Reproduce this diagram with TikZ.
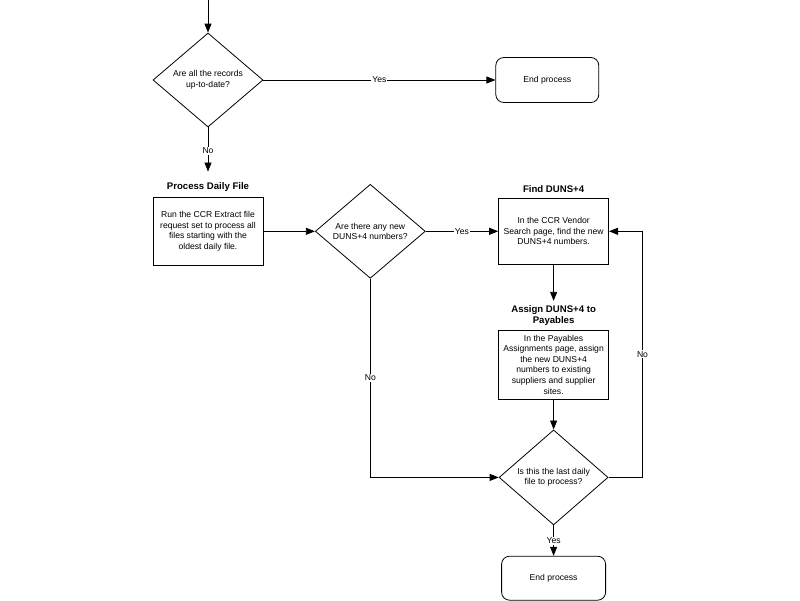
\documentclass[tikz,border=0pt]{standalone}
\usepackage{fontspec}
\setmainfont{Liberation Sans}
\usepackage{tikz}
\usetikzlibrary{shapes.geometric, arrows.meta, positioning}
\tikzstyle{decision} = [diamond, aspect=1.17, minimum width=110pt, minimum height=94pt, inner sep=0pt, align=center, draw=black, line width=0.8pt, font=\fontsize{8.6}{10.6}\selectfont]
\tikzstyle{process} = [rectangle, minimum width=110pt, minimum height=68pt, inner sep=2pt, align=center, draw=black, line width=0.8pt, font=\fontsize{8.6}{10.6}\selectfont]
\tikzstyle{terminal} = [rectangle, rounded corners=8pt, minimum width=103pt, minimum height=45pt, align=center, draw=black, line width=0.8pt, font=\fontsize{8.6}{10.6}\selectfont]
\tikzstyle{heading} = [align=center, inner sep=1pt, font=\bfseries\fontsize{9.6}{11.5}\selectfont]
\tikzstyle{answer} = [fill=white, inner sep=1pt, font=\fontsize{8.6}{10.6}\selectfont]
\tikzstyle{arrow} = [line width=0.8pt, -{Triangle[length=9pt, width=7pt]}]

\begin{document}
\begin{tikzpicture}

\useasboundingbox (0,0) rectangle (800pt,-600pt);

% Entry and first check
\coordinate (start) at (208pt,0pt);
\node (records) [decision] at (208pt,-80pt) {Are all the records\\up-to-date?};
\node (end-top) [terminal, right=232pt of records] {End process};

% Daily file
\node (daily) [process, below=69.5pt of records] {Run the CCR Extract file\\request set to process all\\files starting with the\\oldest daily file.};
\node (daily-title) [heading, above=4pt of daily] {Process Daily File};
\node (new-duns) [decision, right=51.5pt of daily] {Are there any new\\DUNS+4 numbers?};

% Find and assign
\node (find) [process, minimum height=66pt, right=72.5pt of new-duns] {In the CCR Vendor\\Search page, find the new\\DUNS+4 numbers.};
\node (find-title) [heading, above=4pt of find] {Find DUNS+4};
\node (assign) [process, minimum height=69pt, below=65pt of find] {In the Payables\\Assignments page, assign\\the new DUNS+4\\numbers to existing\\suppliers and supplier\\sites.};
\node (assign-title) [heading, above=3pt of assign] {Assign DUNS+4 to\\Payables};

% Last file check
\node (last-file) [decision, minimum width=109pt, minimum height=95pt, below=30pt of assign] {Is this the last daily\\file to process?};
\node (end-bottom) [terminal, minimum width=104pt, minimum height=44pt, below=30.5pt of last-file] {End process};

% Arrows
\draw [arrow] (start) -- (records);
\draw [arrow] (records) -- node[answer] {Yes} (end-top);
\draw [arrow, shorten >=10pt] (records) -- node[answer, pos=0.43] {No} (daily-title);
\draw [arrow] (daily) -- (new-duns);
\draw [arrow] (new-duns) -- node[answer] {Yes} (find);
\draw [arrow, shorten >=3pt] (find) -- (assign-title);
\draw [arrow] (assign) -- (last-file);
\draw [arrow] (last-file) -- node[answer] {Yes} (end-bottom);

% Loop back paths
\draw [arrow] (new-duns.south) |- node[answer, pos=0.25] {No} (last-file.west);
\draw [arrow] (last-file.east) -- ++(34pt,0) |- node[answer, pos=0.25] {No} (find.east);

\end{tikzpicture}
\end{document}
